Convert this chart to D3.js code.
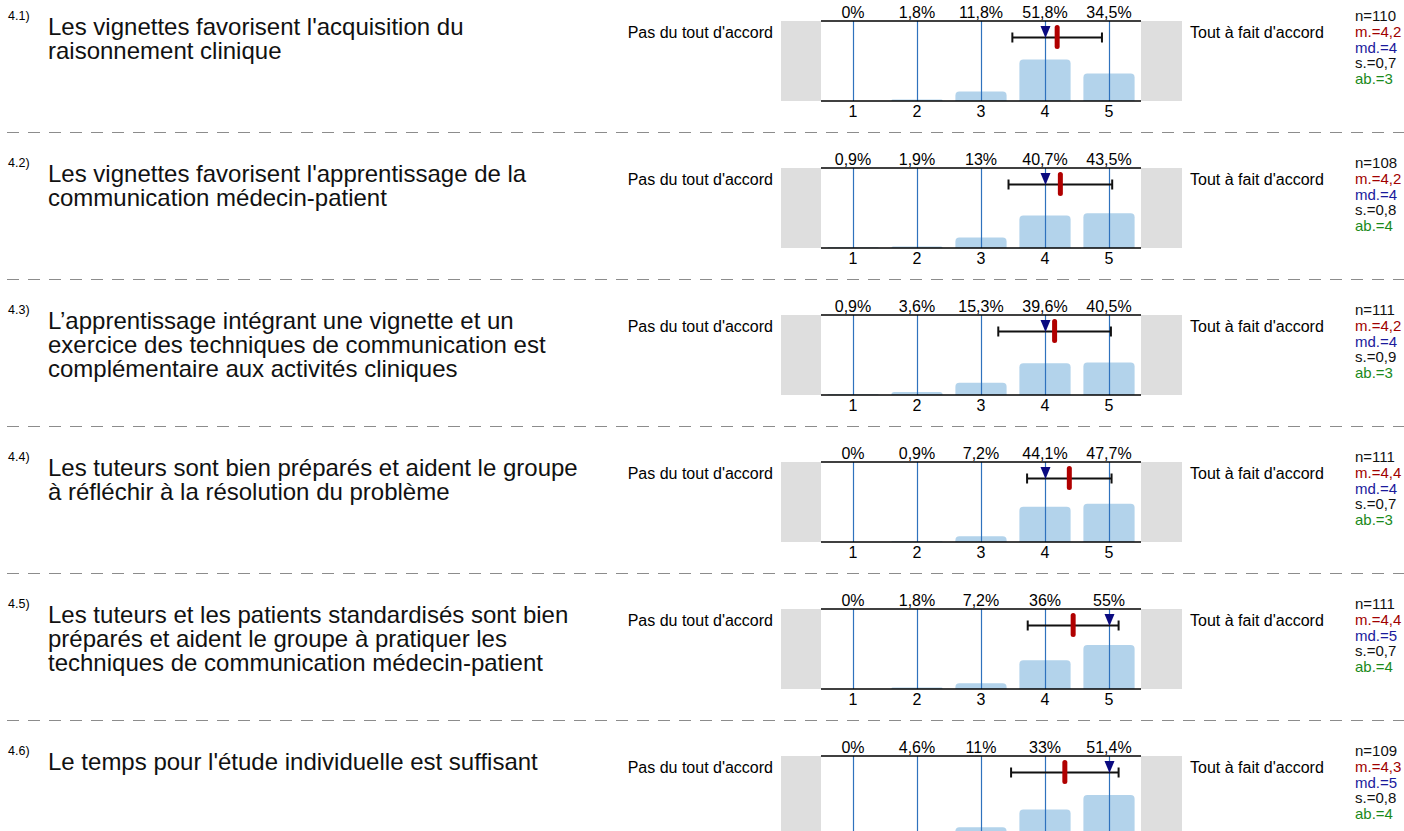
<!DOCTYPE html>
<html>
<head>
<meta charset="utf-8">
<script src="https://cdn.jsdelivr.net/npm/d3@7"></script>
<style>
  body { margin: 0; background: #fff; }
  text { font-family: "Liberation Sans", Arial, sans-serif; }
</style>
</head>
<body>
<div id="chart"></div>
<script>
// data
var questionIds = ["4.1)", "4.2)", "4.3)", "4.4)", "4.5)", "4.6)"]
var questions = [
  ["Les vignettes favorisent l'acquisition du", "raisonnement clinique"],
  ["Les vignettes favorisent l'apprentissage de la", "communication médecin-patient"],
  ["L\u2019apprentissage intégrant une vignette et un", "exercice des techniques de communication est", "complémentaire aux activités cliniques"],
  ["Les tuteurs sont bien préparés et aident le groupe", "à réfléchir à la résolution du problème"],
  ["Les tuteurs et les patients standardisés sont bien", "préparés et aident le groupe à pratiquer les", "techniques de communication médecin-patient"],
  ["Le temps pour l'étude individuelle est suffisant"]
]
var scaleValues = [1, 2, 3, 4, 5]
var percents = [
  [0, 1.8, 11.8, 51.8, 34.5],
  [0.9, 1.9, 13, 40.7, 43.5],
  [0.9, 3.6, 15.3, 39.6, 40.5],
  [0, 0.9, 7.2, 44.1, 47.7],
  [0, 1.8, 7.2, 36, 55],
  [0, 4.6, 11, 33, 51.4]
]
var counts = [110, 108, 111, 111, 111, 109]
var means = [4.19, 4.24, 4.15, 4.38, 4.44, 4.31]
var medians = [4, 4, 4, 4, 5, 5]
var sds = [0.70, 0.81, 0.88, 0.66, 0.71, 0.84]
var abstentions = [3, 4, 3, 3, 4, 4]
var leftLabel = "Pas du tout d'accord"
var rightLabel = "Tout à fait d'accord"

var width = 1404, height = 831
var rowPitch = 147
var boxTop = 21, boxH = 80

var svg = d3.select("#chart").append("svg")
  .attr("width", width)
  .attr("height", height)

// x scale shared by every row
var x = d3.scaleLinear().domain([0.5, 5.5]).range([821, 1141])
var band = x(2) - x(1)
var y = d3.scaleLinear().domain([0, 100]).range([boxH, 0])

var comma = function (v) { return String(v).replace(".", ",") }
var f1 = d3.format(".1f")

questions.forEach(function (lines, i) {
  var g = svg.append("g").attr("transform", "translate(0," + (i * rowPitch) + ")")

  // question number + text
  g.append("text")
    .attr("x", 8).attr("y", 20)
    .style("font-size", "12.5px")
    .text(questionIds[i])
  g.append("text")
    .attr("x", 48).attr("y", 35)
    .style("font-size", "24px")
    .style("fill", "#111")
    .selectAll("tspan")
    .data(lines)
    .enter().append("tspan")
    .attr("x", 48)
    .attr("dy", function (d, j) { return j === 0 ? 0 : 24 })
    .text(function (d) { return d })

  // grey side boxes
  g.append("rect")
    .attr("x", 781).attr("y", boxTop)
    .attr("width", x(0.5) - 781).attr("height", boxH)
    .attr("fill", "#dedede")
  g.append("rect")
    .attr("x", x(5.5)).attr("y", boxTop)
    .attr("width", 41).attr("height", boxH)
    .attr("fill", "#dedede")

  g.append("text")
    .attr("x", 773).attr("y", 38)
    .attr("text-anchor", "end")
    .style("font-size", "16px")
    .text(leftLabel)
  g.append("text")
    .attr("x", 1190).attr("y", 38)
    .style("font-size", "16px")
    .text(rightLabel)

  var plot = g.append("g").attr("transform", "translate(0," + boxTop + ")")

  // bars
  plot.selectAll("path.bar")
    .data(percents[i])
    .enter().append("path")
    .attr("class", "bar")
    .attr("fill", "#b3d3eb")
    .attr("d", function (d, j) {
      var w = band * 0.8, x0 = x(scaleValues[j]) - w / 2
      var h = boxH - y(d), r = Math.min(4, h)
      if (h <= 0) return ""
      return "M" + x0 + "," + boxH +
        "V" + (boxH - h + r) +
        "Q" + x0 + "," + (boxH - h) + " " + (x0 + r) + "," + (boxH - h) +
        "H" + (x0 + w - r) +
        "Q" + (x0 + w) + "," + (boxH - h) + " " + (x0 + w) + "," + (boxH - h + r) +
        "V" + boxH + "Z"
    })

  // vertical grid lines
  plot.selectAll("line.grid")
    .data(scaleValues)
    .enter().append("line")
    .attr("x1", function (d) { return x(d) + 0.5 })
    .attr("x2", function (d) { return x(d) + 0.5 })
    .attr("y1", 0).attr("y2", boxH)
    .style("stroke", "#2f72bd")
    .style("stroke-width", 1.2)

  // top and bottom rules
  plot.append("line")
    .attr("x1", x(0.5)).attr("x2", x(5.5))
    .attr("y1", 0).attr("y2", 0)
    .attr("stroke", "#000").attr("stroke-width", 1.5)
  plot.append("line")
    .attr("x1", x(0.5)).attr("x2", x(5.5))
    .attr("y1", boxH).attr("y2", boxH)
    .attr("stroke", "#000").attr("stroke-width", 1.5)

  // percent labels above
  plot.selectAll("text.pct")
    .data(percents[i])
    .enter().append("text")
    .attr("x", function (d, j) { return x(scaleValues[j]) })
    .attr("y", -3.5)
    .attr("text-anchor", "middle")
    .style("font-size", "16px")
    .text(function (d) { return comma(d) + "%" })

  // scale labels below (the last row runs off the page, as in the source)
  if (i < questions.length - 1) {
    plot.selectAll("text.tick")
      .data(scaleValues)
      .enter().append("text")
      .attr("x", function (d) { return x(d) })
      .attr("y", boxH + 16)
      .attr("text-anchor", "middle")
      .style("font-size", "16px")
      .text(function (d) { return d })
  }

  // standard deviation bar
  var ey = 16.5
  var lo = x(means[i] - sds[i]), hi = x(means[i] + sds[i])
  plot.append("line")
    .attr("x1", lo).attr("x2", hi).attr("y1", ey).attr("y2", ey)
    .attr("stroke", "#111").attr("stroke-width", 2)
  ;[lo, hi].forEach(function (xx) {
    plot.append("line")
      .attr("x1", xx).attr("x2", xx).attr("y1", ey - 5).attr("y2", ey + 5)
      .attr("stroke", "#111").attr("stroke-width", 2)
  })

  // median triangle
  var mx = x(medians[i]) + 0.5
  plot.append("path")
    .attr("d", "M" + (mx - 5) + "," + 5 + "L" + (mx + 5) + "," + 5 + "L" + mx + "," + 17 + "Z")
    .attr("fill", "#0a0a80")

  // mean marker
  plot.append("rect")
    .attr("x", x(means[i]) - 2.5).attr("y", 4)
    .attr("width", 5).attr("height", 24)
    .attr("rx", 2.5)
    .attr("fill", "#b00000")

  // stats
  var stats = [
    { t: "n=" + counts[i], c: "#111" },
    { t: "m.=" + comma(f1(means[i])), c: "#a00000" },
    { t: "md.=" + medians[i], c: "#1a1a9c" },
    { t: "s.=" + comma(f1(sds[i])), c: "#111" },
    { t: "ab.=" + abstentions[i], c: "#1a8a1a" }
  ]
  g.selectAll("text.stat")
    .data(stats)
    .enter().append("text")
    .attr("x", 1355)
    .attr("y", function (d, j) { return 21 + j * 15.8 })
    .style("font-size", "15px")
    .style("fill", function (d) { return d.c })
    .text(function (d) { return d.t })

  // dashed separator
  if (i < questions.length - 1) {
    g.append("line")
      .attr("x1", 7).attr("x2", width)
      .attr("y1", 132.5).attr("y2", 132.5)
      .attr("stroke", "#8c8c8c")
      .attr("stroke-width", 1.2)
      .attr("stroke-dasharray", "12,9")
  }
})
</script>
</body>
</html>
